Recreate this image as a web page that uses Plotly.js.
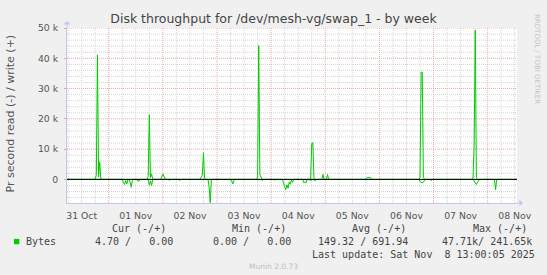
<!DOCTYPE html>
<html><head><meta charset="utf-8">
<script src="https://cdn.plot.ly/plotly-3.0.1.min.js"></script>
<style>html,body{margin:0;padding:0;background:#f0f0f0;}#chart{width:547px;height:275px;}</style>
</head><body><div id="chart"></div>
<script>
const chartTitle = 'Disk throughput for /dev/mesh-vg/swap_1 - by week';
const yAxisTitle = 'Pr second read (-) / write (+)';
const days = ['2025-10-31','2025-11-01','2025-11-02','2025-11-03','2025-11-04','2025-11-05','2025-11-06','2025-11-07','2025-11-08'];
const dayLabels = ['31 Oct','01 Nov','02 Nov','03 Nov','04 Nov','05 Nov','06 Nov','07 Nov','08 Nov'];
const yTickVals = [0,10000,20000,30000,40000,50000];
const yTickText = ['0','10 k','20 k','30 k','40 k','50 k'];
const timeRange = ['2025-10-31 05:30','2025-11-08 13:00'];
const yRange = [-7800, 50000];

const writeTimes = [
 '2025-10-31 05:30','2025-10-31 18:00','2025-10-31 18:30','2025-10-31 19:00','2025-10-31 19:30','2025-10-31 20:00','2025-10-31 20:30',
 '2025-11-01 17:00','2025-11-01 17:30','2025-11-01 18:00','2025-11-01 18:30','2025-11-01 19:00','2025-11-01 19:30',
 '2025-11-01 23:00','2025-11-01 23:30','2025-11-02 00:00','2025-11-02 00:30','2025-11-02 01:00',
 '2025-11-02 16:30','2025-11-02 17:00','2025-11-02 17:30','2025-11-02 18:00','2025-11-02 18:30','2025-11-02 19:00',
 '2025-11-03 17:30','2025-11-03 18:00','2025-11-03 18:30','2025-11-03 19:00','2025-11-03 19:30','2025-11-03 20:00',
 '2025-11-04 17:30','2025-11-04 18:00','2025-11-04 18:30','2025-11-04 19:00',
 '2025-11-04 22:30','2025-11-04 23:00','2025-11-04 23:30','2025-11-05 00:30','2025-11-05 01:00','2025-11-05 01:30',
 '2025-11-05 18:00','2025-11-05 18:30','2025-11-05 19:00','2025-11-05 19:30','2025-11-05 20:00','2025-11-05 20:30',
 '2025-11-06 17:30','2025-11-06 18:00','2025-11-06 18:30','2025-11-06 19:00','2025-11-06 19:30','2025-11-06 20:00',
 '2025-11-07 17:00','2025-11-07 17:30','2025-11-07 18:00','2025-11-07 18:30','2025-11-07 19:00','2025-11-07 19:30',
 '2025-11-08 13:00'];
const writeValues = [
 0,0,1500,41100,800,5700,0,
 0,1000,21300,600,1800,0,
 0,900,1800,1000,0,
 0,900,1400,8800,300,0,
 0,800,44200,1500,500,0,
 0,11900,12100,0,
 0,1600,0,0,1600,0,
 0,600,600,600,600,0,
 0,600,35400,35400,600,0,
 0,500,11200,49300,600,0,
 0];

const readTimes = [
 '2025-10-31 05:30',
 '2025-11-01 06:00','2025-11-01 06:30','2025-11-01 07:00','2025-11-01 07:30','2025-11-01 08:00','2025-11-01 08:30','2025-11-01 09:00','2025-11-01 09:30','2025-11-01 10:00','2025-11-01 10:30','2025-11-01 11:00',
 '2025-11-01 12:30','2025-11-01 13:00','2025-11-01 13:30','2025-11-01 14:00',
 '2025-11-01 17:30','2025-11-01 18:00','2025-11-01 18:30','2025-11-01 19:00','2025-11-01 19:30',
 '2025-11-02 02:30','2025-11-02 03:00','2025-11-02 03:30',
 '2025-11-02 07:00','2025-11-02 07:30','2025-11-02 08:00',
 '2025-11-02 20:00','2025-11-02 20:30','2025-11-02 21:00','2025-11-02 21:30',
 '2025-11-03 06:00','2025-11-03 06:30','2025-11-03 07:00','2025-11-03 07:30','2025-11-03 08:00',
 '2025-11-03 19:30','2025-11-03 20:00','2025-11-03 20:30',
 '2025-11-04 01:00','2025-11-04 01:30','2025-11-04 02:00',
 '2025-11-04 05:00','2025-11-04 05:30','2025-11-04 06:00','2025-11-04 06:30','2025-11-04 07:00','2025-11-04 07:30','2025-11-04 08:00','2025-11-04 08:30','2025-11-04 09:00','2025-11-04 09:30','2025-11-04 10:00',
 '2025-11-04 14:00','2025-11-04 14:30','2025-11-04 15:00','2025-11-04 15:30','2025-11-04 16:00',
 '2025-11-04 17:00','2025-11-04 17:30','2025-11-04 18:00','2025-11-04 19:00','2025-11-04 19:30','2025-11-04 20:00',
 '2025-11-06 17:30','2025-11-06 18:00','2025-11-06 18:30','2025-11-06 19:00','2025-11-06 19:30','2025-11-06 20:00','2025-11-06 20:30',
 '2025-11-06 22:30','2025-11-06 23:00','2025-11-06 23:30',
 '2025-11-07 17:30','2025-11-07 18:00','2025-11-07 18:30','2025-11-07 19:00','2025-11-07 19:30','2025-11-07 20:00','2025-11-07 20:30',
 '2025-11-08 03:00','2025-11-08 03:30','2025-11-08 04:00',
 '2025-11-08 13:00'];
const readValues = [
 0,
 0,900,1700,400,1500,200,0,900,2600,300,0,
 0,600,500,0,
 0,1900,500,2000,0,
 0,300,0,
 0,300,0,
 0,2500,7700,0,
 0,500,1500,400,0,
 0,400,0,
 0,300,0,
 0,900,2400,3400,1800,2900,900,1600,200,1000,0,
 0,1100,800,1100,0,
 0,500,0,0,500,0,
 0,600,1100,1100,1000,300,0,
 0,400,0,
 0,500,1000,1700,900,500,0,
 0,3500,0,
 0];

const seriesName = 'Bytes';
const legendHeaders = ['Cur (-/+)','Min (-/+)','Avg (-/+)','Max (-/+)'];
const curValues = ['4.70','0.00'];
const minValues = ['0.00','0.00'];
const avgValues = ['149.32','691.94'];
const maxValues = ['47.71k','241.65k'];
const lastUpdate = 'Last update: Sat Nov  8 13:00:05 2025';
const footer = 'Munin 2.0.73';
const watermark = 'RRDTOOL / TOBI OETIKER';

const GREEN = '#00cc00';
const AXIS = '#c3c8ea';
const RED = '#eaa8a8';
const GRAY = '#d4d4d4';
const DASH = '1px,1px';
const L=67, R=517, T=28, B=203;
const px = x => (x-L)/(R-L);
const py = y => (B-y)/(B-T);
const nb = s => s.replace(/ /g,'\u00a0');
const mono = {family:'DejaVu Sans Mono', size:10, color:'#444'};

// grid positions: 6-hour minor lines, midnight major lines, 2k minor / 10k major horizontals
const minorX = [];
days.forEach(d => ['06:00','12:00','18:00'].forEach(h => minorX.push(d+' '+h)));
const majorX = days.slice(1).map(d => d+' 00:00');
const minorY = [];
for (let v = -6000; v <= 48000; v += 2000) if (v % 10000 !== 0) minorY.push(v);
const majorY = yTickVals.filter(v => v !== 0);

const traces = [
 {type:'scatter', mode:'lines', x:writeTimes, y:writeValues, line:{color:GREEN, width:1}, hoverinfo:'skip'},
 {type:'scatter', mode:'lines', x:readTimes, y:readValues.map(v=>-v), line:{color:GREEN, width:1}, hoverinfo:'skip'}
];

function txt(text, x, y, font, extra){
  return Object.assign({text:nb(text), xref:'paper', yref:'paper', x:px(x), y:py(y), showarrow:false,
    xanchor:'left', yanchor:'middle', font:font, borderpad:0, borderwidth:0}, extra||{});
}

const annotations = [
 txt(yAxisTitle, 9.5, 114, {family:'DejaVu Sans', size:11, color:'#555'}, {textangle:-90, xanchor:'center'}),
 txt(watermark, 537.5, 58.5, {family:'DejaVu Sans', size:7, color:'#c4c4c4'}, {textangle:90, xanchor:'center'}),
 txt(legendHeaders[0], 111.6, 228.6, mono),
 txt(legendHeaders[1], 231.9, 228.6, mono),
 txt(legendHeaders[2], 352.3, 228.6, mono),
 txt(legendHeaders[3], 472.6, 228.6, mono),
 txt(seriesName, 26.2, 241.5, mono),
 txt(curValues[0].padStart(4)+' / '+curValues[1].padStart(6), 94.9, 241.5, mono),
 txt(minValues[0].padStart(4)+' / '+minValues[1].padStart(6), 212.8, 241.5, mono),
 txt(avgValues[0]+' / '+avgValues[1], 318.1, 241.5, mono),
 txt(maxValues[0]+'/ '+maxValues[1], 441.9, 241.5, mono),
 txt(lastUpdate, 311.5, 254.1, mono),
 txt(footer, 273.5, 266.3, {family:'DejaVu Sans', size:7.5, color:'#bdbdbd'}, {xanchor:'center'}),
 {text:'', xref:'paper', yref:'paper', x:px(67), y:py(21), ax:0, ay:8, showarrow:true, arrowhead:1, arrowsize:1.2, arrowwidth:1, arrowcolor:AXIS, standoff:0},
 {text:'', xref:'paper', yref:'paper', x:px(523), y:py(203), ax:-8, ay:0, showarrow:true, arrowhead:1, arrowsize:1.2, arrowwidth:1, arrowcolor:AXIS, standoff:0}
];

const vline = (t, color) => ({type:'line', xref:'x', yref:'paper', x0:t, x1:t, y0:0, y1:1, line:{color:color, width:1, dash:DASH}, layer:'below'});
const hline = (v, color) => ({type:'line', xref:'paper', yref:'y', x0:0, x1:1, y0:v, y1:v, line:{color:color, width:1, dash:DASH}, layer:'below'});
const shapes = [].concat(
  minorY.map(v => hline(v, GRAY)),
  minorX.map(t => vline(t, GRAY)),
  majorY.map(v => hline(v, RED)),
  majorX.map(t => vline(t, RED)),
  [{type:'line', xref:'paper', yref:'y', x0:0, x1:1, y0:0, y1:0, line:{color:'#000', width:1}, layer:'above'},
   {type:'rect', xref:'paper', yref:'paper', x0:px(14), x1:px(19.3), y0:py(244.2), y1:py(238.9), fillcolor:GREEN, line:{width:0}}]
);

const tickFont = {family:'DejaVu Sans', size:9.3, color:'#555'};
const layout = {
 width:547, height:275,
 margin:{l:L, r:547-R, t:T, b:275-B, pad:0},
 paper_bgcolor:'#f0f0f0', plot_bgcolor:'#ffffff',
 showlegend:false,
 title:{text:chartTitle, font:{family:'DejaVu Sans', size:12.5, color:'#444'}, xref:'container', x:0.5, xanchor:'center', yref:'container', y:1-19/275, yanchor:'middle'},
 xaxis:{type:'date', range:timeRange, tickmode:'array', tickvals:days.map(d=>d+' 12:00'), ticktext:dayLabels,
   showgrid:false, zeroline:false, ticks:'', ticklabelstandoff:4, tickfont:tickFont,
   showline:true, linecolor:AXIS, linewidth:1, fixedrange:true},
 yaxis:{range:yRange, tickmode:'array', tickvals:yTickVals, ticktext:yTickText,
   showgrid:false, zeroline:false,
   ticks:'outside', ticklen:2, tickcolor:'#e6a0a0', ticklabelstandoff:4, tickfont:tickFont,
   showline:true, linecolor:AXIS, linewidth:1, fixedrange:true},
 annotations:annotations,
 shapes:shapes
};

Plotly.newPlot('chart', traces, layout, {staticPlot:true, displayModeBar:false});
</script>
</body></html>
